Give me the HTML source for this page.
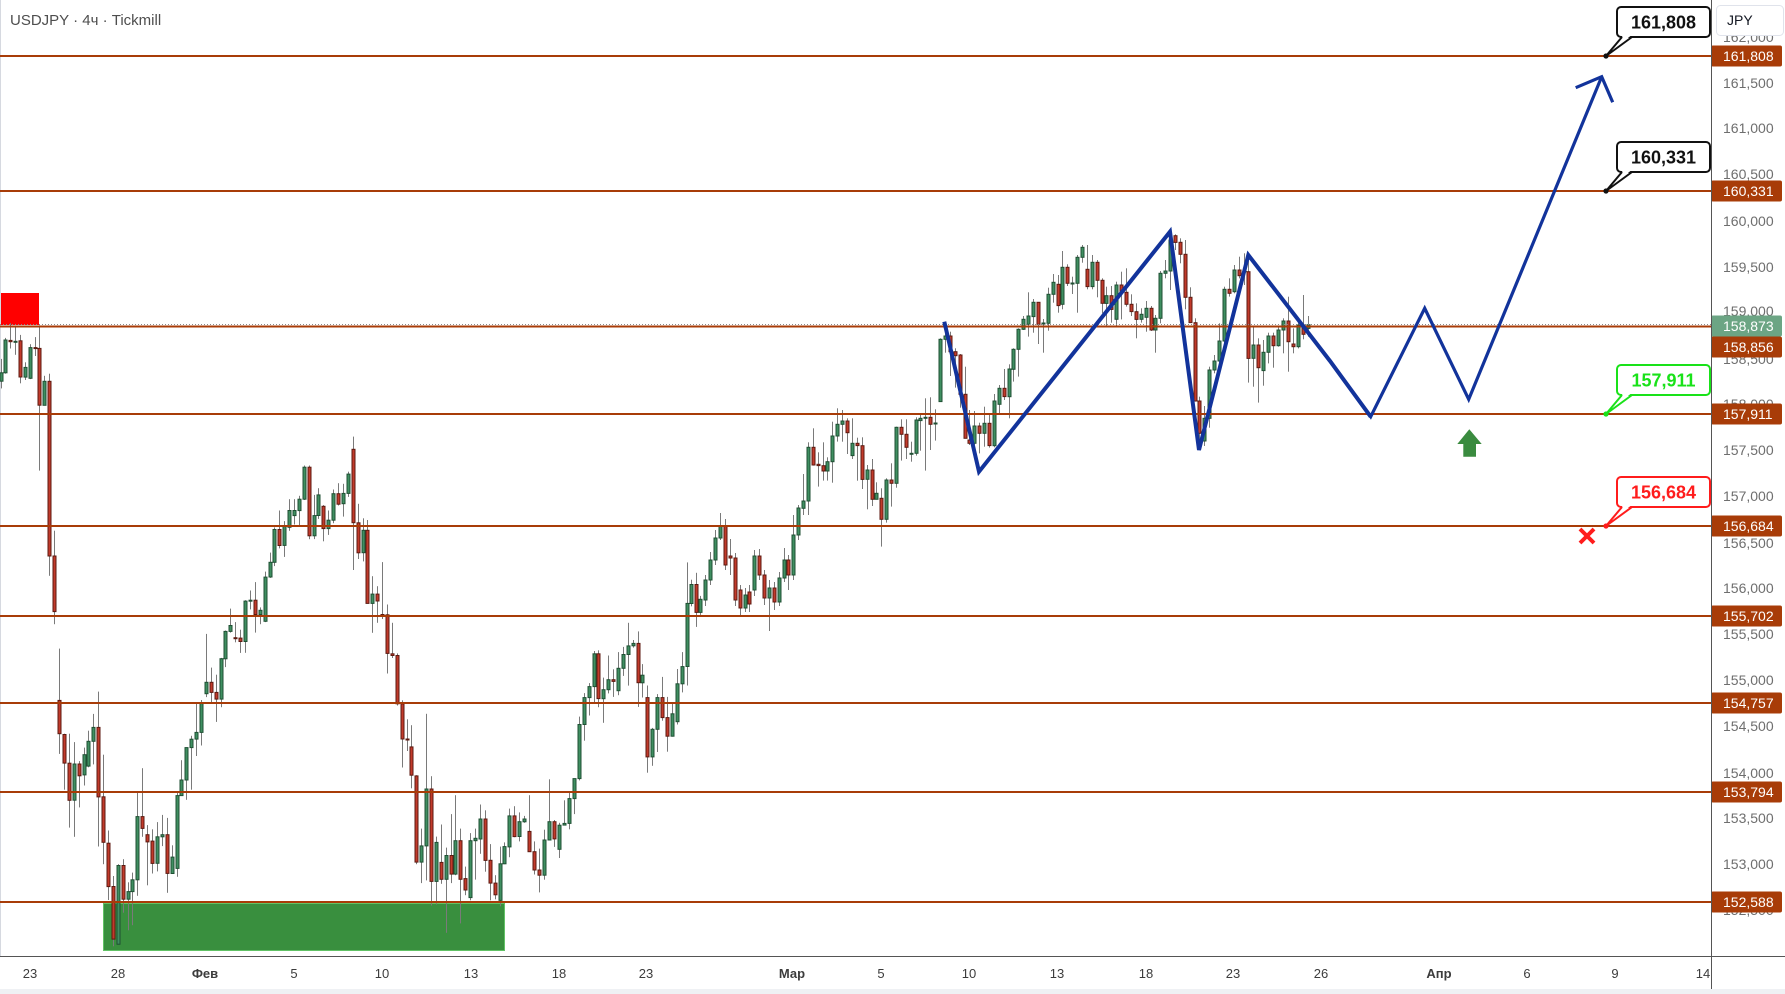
<!DOCTYPE html>
<html><head><meta charset="utf-8"><style>
html,body{margin:0;padding:0;background:#fff;}
svg{display:block;}
text{font-family:"Liberation Sans","DejaVu Sans",sans-serif;}
</style></head><body>
<svg id="s" width="1785" height="994" viewBox="0 0 1785 994" xmlns="http://www.w3.org/2000/svg">
<rect x="0" y="0" width="1785" height="994" fill="#ffffff"/>
<rect x="0" y="0" width="1" height="956" fill="#d6d9e0"/>
<!-- zones -->
<rect x="1" y="293" width="38" height="32" fill="#ff0000"/>
<rect x="103.5" y="903.5" width="401" height="47" fill="#398f3e" stroke="#62c266" stroke-width="1"/>
<g id="candles"></g>
<!-- current price dotted -->
<line x1="0" y1="324.5" x2="1711" y2="324.5" stroke="#8a8a8a" stroke-width="1" stroke-dasharray="1,2"/>
<!-- levels -->
<g stroke="#a83c08" stroke-width="2">
<line x1="0" y1="56" x2="1711" y2="56"/>
<line x1="0" y1="191" x2="1711" y2="191"/>
<line x1="0" y1="326.5" x2="1711" y2="326.5"/>
<line x1="0" y1="414" x2="1711" y2="414"/>
<line x1="0" y1="526" x2="1711" y2="526"/>
<line x1="0" y1="616" x2="1711" y2="616"/>
<line x1="0" y1="703" x2="1711" y2="703"/>
<line x1="0" y1="792" x2="1711" y2="792"/>
<line x1="0" y1="902" x2="1711" y2="902"/>
</g>
<!-- blue zigzag -->
<polyline points="944.3,321.7 979,471.7 1170,231.7 1199,450 1248.3,255 1330,361 1370.7,416.7" fill="none" stroke="#12339b" stroke-width="4" stroke-linejoin="miter"/>
<polyline points="1330,361 1370.7,416.7 1424.7,308.3 1468.7,399.3 1601.7,76.7" fill="none" stroke="#12339b" stroke-width="3.2" stroke-linejoin="miter"/>
<polyline points="1575.7,87.7 1601.7,76.7 1612.7,102.3" fill="none" stroke="#12339b" stroke-width="3.2"/>
<!-- green arrow -->
<polygon points="1469.3,429.3 1481.7,444 1476,444 1476,456.7 1463.3,456.7 1463.3,444 1457.3,444" fill="#3a8b3f"/>
<!-- red X -->
<g stroke="#ff1c1c" stroke-width="4">
<line x1="1580" y1="529" x2="1594" y2="543"/>
<line x1="1594" y1="529" x2="1580" y2="543"/>
</g>
<!-- callouts -->
<g font-weight="bold" font-size="18" text-anchor="middle">
<g>
<rect x="1617" y="7" width="93" height="30" rx="4" fill="#fff" stroke="#111" stroke-width="2"/>
<polygon points="1623,35.5 1631,35.5 1607,55" fill="#fff"/>
<polyline points="1622,37 1606,56 1632,37" fill="none" stroke="#111" stroke-width="2"/>
<circle cx="1606" cy="56" r="2.6" fill="#111"/>
<text x="1663.5" y="28.5" fill="#111">161,808</text>
</g>
<g>
<rect x="1617" y="142" width="93" height="30" rx="4" fill="#fff" stroke="#111" stroke-width="2"/>
<polygon points="1623,170.5 1631,170.5 1607,190" fill="#fff"/>
<polyline points="1622,172 1606,191 1632,172" fill="none" stroke="#111" stroke-width="2"/>
<circle cx="1606" cy="191" r="2.6" fill="#111"/>
<text x="1663.5" y="163.5" fill="#111">160,331</text>
</g>
<g>
<rect x="1617" y="365" width="93" height="30" rx="4" fill="#fff" stroke="#19e219" stroke-width="2"/>
<polygon points="1623,393.5 1631,393.5 1607,413" fill="#fff"/>
<polyline points="1622,395 1606,414 1632,395" fill="none" stroke="#19e219" stroke-width="2"/>
<circle cx="1606" cy="414" r="2.6" fill="#19e219"/>
<text x="1663.5" y="386.5" fill="#19e219">157,911</text>
</g>
<g>
<rect x="1617" y="477" width="93" height="30" rx="4" fill="#fff" stroke="#ff1c1c" stroke-width="2"/>
<polygon points="1623,505.5 1631,505.5 1607,525" fill="#fff"/>
<polyline points="1622,507 1606,526 1632,507" fill="none" stroke="#ff1c1c" stroke-width="2"/>
<circle cx="1606" cy="526" r="2.6" fill="#ff1c1c"/>
<text x="1663.5" y="498.5" fill="#ff1c1c">156,684</text>
</g>
</g>
<!-- title -->
<text x="10" y="25" font-size="15" fill="#4e4e4e">USDJPY · 4ч · Tickmill</text>
<!-- price axis ticks -->
<g font-size="14" fill="#6e6e6e">
<text x="1723" y="42">162,000</text>
<text x="1723" y="88">161,500</text>
<text x="1723" y="133">161,000</text>
<text x="1723" y="179">160,500</text>
<text x="1723" y="226">160,000</text>
<text x="1723" y="272">159,500</text>
<text x="1723" y="316">159,000</text>
<text x="1723" y="364">158,500</text>
<text x="1723" y="409">158,000</text>
<text x="1723" y="455">157,500</text>
<text x="1723" y="501">157,000</text>
<text x="1723" y="548">156,500</text>
<text x="1723" y="593">156,000</text>
<text x="1723" y="639">155,500</text>
<text x="1723" y="685">155,000</text>
<text x="1723" y="731">154,500</text>
<text x="1723" y="778">154,000</text>
<text x="1723" y="823">153,500</text>
<text x="1723" y="869">153,000</text>
<text x="1723" y="915">152,500</text>
</g>
<!-- price labels -->
<g font-size="14" fill="#ffffff">
<rect x="1711" y="45.5" width="71" height="21" rx="2" fill="#a83c08"/><text x="1723" y="61">161,808</text>
<rect x="1711" y="180.5" width="71" height="21" rx="2" fill="#a83c08"/><text x="1723" y="196">160,331</text>
<rect x="1711" y="315.5" width="71" height="21" rx="2" fill="#6ca584"/><text x="1723" y="331">158,873</text>
<rect x="1711" y="336.5" width="71" height="21" rx="2" fill="#a83c08"/><text x="1723" y="352">158,856</text>
<rect x="1711" y="403.5" width="71" height="21" rx="2" fill="#a83c08"/><text x="1723" y="419">157,911</text>
<rect x="1711" y="515.5" width="71" height="21" rx="2" fill="#a83c08"/><text x="1723" y="531">156,684</text>
<rect x="1711" y="605.5" width="71" height="21" rx="2" fill="#a83c08"/><text x="1723" y="621">155,702</text>
<rect x="1711" y="692.5" width="71" height="21" rx="2" fill="#a83c08"/><text x="1723" y="708">154,757</text>
<rect x="1711" y="781.5" width="71" height="21" rx="2" fill="#a83c08"/><text x="1723" y="797">153,794</text>
<rect x="1711" y="891.5" width="71" height="21" rx="2" fill="#a83c08"/><text x="1723" y="907">152,588</text>
</g>
<!-- JPY -->
<rect x="1716.5" y="5.5" width="67" height="30" rx="4" fill="#fff" stroke="#e0e3eb" stroke-width="1"/>
<text x="1727" y="25" font-size="14" fill="#131722">JPY</text>
<!-- axes -->
<rect x="1711" y="0" width="1" height="990" fill="#555"/>
<rect x="0" y="956" width="1785" height="1" fill="#555"/>
<!-- time labels -->
<g font-size="13" fill="#3c3c3c" text-anchor="middle">
<text x="30" y="978">23</text>
<text x="118" y="978">28</text>
<text x="205" y="978" font-weight="bold">Фев</text>
<text x="294" y="978">5</text>
<text x="382" y="978">10</text>
<text x="471" y="978">13</text>
<text x="559" y="978">18</text>
<text x="646" y="978">23</text>
<text x="792" y="978" font-weight="bold">Мар</text>
<text x="881" y="978">5</text>
<text x="969" y="978">10</text>
<text x="1057" y="978">13</text>
<text x="1146" y="978">18</text>
<text x="1233" y="978">23</text>
<text x="1321" y="978">26</text>
<text x="1439" y="978" font-weight="bold">Апр</text>
<text x="1527" y="978">6</text>
<text x="1615" y="978">9</text>
<text x="1703" y="978">14</text>
</g>
<rect x="0" y="989" width="1785" height="5" fill="#eff1f4"/>
</svg>
<script>
(function(){
var NS='http://www.w3.org/2000/svg';
var g=document.getElementById('candles');
function add(tag,a){var e=document.createElementNS(NS,tag);for(var k in a)e.setAttribute(k,a[k]);g.appendChild(e);}
var zones=[
{ox:0,sx:3,oy:300,sy:2.375,d:[
[3,'g',173,193,140,210],[15,'g',95,173,90,175],[31,'r',96,99,55,115],[46,'g',98,99,65,130],[61,'r',97,183,83,198],[76,'g',160,183,148,190],[91,'g',113,186,105,188],[106,'r',113,115,88,133],[118,'r',115,250,60,405],[133,'g',193,250,180,250],[148,'r',193,608,175,655],[163,'r',608,740,548,770],[178,'r',951,1030,828,1078],[193,'r',1032,1100,1030,1163],[208,'r',1100,1188,1030,1253],[223,'g',1102,1188,1050,1275],[238,'r',1102,1130,1095,1205],[253,'g',1080,1128,1063,1153],[265,'g',1048,1107,1023,1110],[280,'g',1015,1048,983,1103],[295,'r',1015,1180,930,1298],[310,'r',1180,1288,1080,1340],[325,'r',1290,1393,1260,1425],[340,'r',1393,1518,1368,1535],[355,'g',1343,1530,1340,1530],[370,'r',1343,1423,1328,1455],[385,'g',1405,1423,1383,1497],[397,'g',1377,1405,1360,1485],[412,'g',1227,1377,1170,1415],[427,'r',1227,1255,1112,1275],[442,'r',1270,1287,1247,1390],[457,'r',1285,1338,1257,1362],[472,'g',1275,1338,1240,1357],[487,'g',1270,1275,1223,1297],[502,'r',1270,1362,1230,1408],[517,'g',1323,1362,1295,1362],[532,'g',1177,1350,1170,1370],[544,'g',1140,1177,1093,1177],[559,'g',1063,1140,1063,1187],[574,'g',1043,1063,1035,1163],[589,'g',1027,1043,957,1083],[604,'g',957,1027,950,1058],[619,'g',908,935,793,943],[634,'r',908,932,873,955],[649,'r',932,948,890,1002],[664,'g',852,948,850,967],[676,'g',787,852,785,872],[691,'g',773,787,733,790],[706,'r',802,804,765,813],[721,'r',803,811,783,838],[736,'g',715,811,713,838],[751,'g',713,715,690,735],[766,'r',713,747,670,790],[781,'g',737,747,730,770],[796,'g',658,763,645,765],[811,'g',623,658,600,660],[823,'g',545,623,540,632],[838,'r',545,583,500,590],[853,'g',538,583,525,610],[868,'g',500,540,473,548],[883,'g',500,512,473,533],[898,'g',473,500,465,535],[913,'g',397,473,393,475],[928,'r',397,560,393,568],[943,'g',512,560,463,568],[955,'g',463,512,447,520],[970,'r',490,543,487,573],[985,'g',523,543,500,558],[1000,'g',460,523,450,530],[1015,'r',460,485,435,488]
]},
{ox:340,sx:3,oy:420,sy:2.9,d:[
[10,'g',213,243,185,280],[25,'g',157,213,150,223],[40,'r',85,298,48,435],[55,'r',298,385,243,403],[68,'g',320,385,285,410],[82,'r',320,532,290,532],[97,'g',505,532,453,617],[112,'r',505,525,482,588],[127,'r',564,566,412,577],[142,'r',565,677,535,735],[157,'r',678,683,588,690],[172,'r',683,823,677,828],[187,'r',823,925,813,1008],[202,'r',925,928,868,960],[214,'r',948,1030,885,1068],[229,'r',1032,1282,1030,1288],[244,'g',1235,1282,1185,1343],[259,'g',1070,1235,852,1335],[274,'r',1070,1338,1033,1408],[289,'g',1225,1338,1208,1405],[304,'r',1283,1332,1173,1345],[319,'g',1263,1332,1240,1487],[334,'r',1263,1317,1143,1343],[346,'g',1220,1317,1088,1320],[361,'r',1220,1332,1185,1460],[376,'r',1330,1363,1295,1378],[391,'g',1220,1385,1198,1393],[406,'g',1213,1220,1185,1333],[421,'g',1157,1215,1115,1258],[436,'r',1157,1277,1132,1310],[451,'r',1277,1343,1230,1393],[466,'r',1343,1377,1320,1390],[481,'g',1287,1393,1237,1410],[493,'g',1237,1287,1225,1288],[508,'g',1148,1238,1127,1268],[523,'r',1148,1208,1120,1210],[538,'g',1165,1208,1138,1222],[553,'g',1157,1165,1148,1168],[568,'r',1193,1252,1088,1252],[583,'r',1252,1305,1222,1318],[598,'r',1305,1320,1243,1370],[613,'g',1218,1320,1188,1333],[626,'g',1165,1218,1042,1218],[641,'r',1165,1215,1160,1238],[656,'g',1175,1245,1168,1270],[671,'g',1170,1175,1103,1175],[686,'g',1098,1170,1078,1187],[701,'g',1040,1098,1040,1143],[716,'g',883,1040,860,1045],[731,'g',805,883,792,930],[746,'g',773,805,763,857],[761,'g',678,773,670,823],[773,'r',678,808,668,833],[788,'g',782,808,747,878],[803,'g',753,782,683,793],[818,'r',753,758,723,803],[833,'g',720,785,673,798],[848,'g',680,720,658,742],[863,'g',655,680,588,770],[878,'g',648,655,638,660],[893,'r',648,762,613,832],[905,'g',740,762,708,805],[920,'r',805,977,770,1023],[935,'g',897,977,893,1003],[950,'g',805,897,795,963],[965,'r',805,863,745,872],[980,'r',863,917,803,962],[995,'g',852,917,820,918],[1010,'g',765,875,722,883],[1025,'g',715,765,673,790],[1040,'g',532,715,413,770],[1052,'g',477,532,463,540],[1067,'r',477,558,443,600],[1080,'g',520,558,510,565]
]},
{ox:0,sx:1,oy:0,sy:1,d:[
[705,'g',580,600,575,606],[710,'g',560,580,552,585],[715,'g',538,560,530,565],[720,'g',526,538,513,540],[725,'r',526,565,519,570],[730,'r',556,558,539,575],[735,'r',558,600,553,606],[740,'r',590,608,585,615],[745,'g',595,608,588,612],[749,'r',592,604,585,612],[754,'g',556,590,550,596],[759,'r',556,575,549,580],[764,'r',575,598,570,605],[769,'g',588,598,580,631],[774,'r',588,602,582,610],[779,'g',578,602,572,606],[784,'g',560,578,548,582],[788,'r',560,575,555,590],[793,'g',535,575,515,580],[798,'g',508,535,505,540]
]},
{ox:690,sx:3,oy:200,sy:3,d:[
[340,'g',903,925,822,945],[355,'g',742,903,727,945],[370,'r',742,795,685,797],[385,'r',793,797,757,860],[400,'r',797,813,727,842],[412,'g',785,813,772,842],[427,'g',708,785,665,848],[442,'g',673,708,625,725],[457,'g',663,673,630,725],[472,'r',663,698,655,762],[487,'g',730,767,655,777],[502,'r',730,737,713,842],[517,'r',737,838,712,867],[532,'g',810,838,795,928],[547,'r',810,898,777,918],[559,'g',880,898,847,898],[574,'r',895,958,865,1040],[589,'g',840,958,835,968],[604,'r',840,850,790,920],[619,'g',682,850,680,863],[634,'r',682,703,658,782],[649,'r',703,742,658,777],[664,'g',760,763,725,785],[679,'g',660,760,652,767],[691,'g',655,662,642,752],[706,'g',652,655,595,812],[721,'r',652,673,592,750],[736,'g',669,671,628,722],[751,'g',418,605,415,605],[766,'g',408,418,395,458],[781,'r',408,455,395,528],[796,'r',455,467,445,563],[811,'r',465,583,462,623],[826,'r',583,715,500,715],[838,'r',720,730,630,735],[853,'g',678,730,633,735],[868,'r',678,700,668,760],[883,'g',670,700,620,740],[898,'r',670,737,640,743],[913,'g',603,737,582,742],[928,'g',565,613,555,640],[943,'r',565,590,507,600]
]},
{ox:1000,sx:3,oy:200,sy:3,d:[
[28,'g',507,590,493,655],[40,'g',448,508,445,545],[55,'g',388,448,385,530],[70,'g',358,388,348,390],[85,'g',348,373,277,410],[100,'g',307,350,297,398],[115,'r',307,373,307,432],[130,'g',369,371,357,458],[145,'g',283,370,263,392],[160,'g',247,283,222,308],[175,'r',253,317,225,338],[187,'g',202,313,153,328],[202,'r',202,250,193,258],[217,'g',249,251,230,282],[232,'g',172,250,165,338],[247,'g',142,172,135,188],[262,'r',208,260,135,268],[277,'g',187,260,165,268],[292,'r',187,241,180,292],[307,'r',241,310,235,340],[319,'g',287,310,260,378],[334,'r',287,328,258,368],[349,'g',255,358,245,378],[364,'r',255,275,215,358],[379,'r',277,313,205,320],[394,'r',313,335,283,348],[409,'r',335,358,310,415],[424,'g',343,358,325,368],[439,'g',325,352,303,395],[454,'r',325,390,318,393],[466,'g',355,390,345,458],[481,'g',220,355,213,370],[496,'g',213,220,180,235],[511,'g',120,213,95,270],[526,'r',107,127,103,150],[541,'r',127,163,115,190],[556,'r',163,292,120,328],[571,'r',292,368,262,368],[586,'r',368,603,355,605],[598,'r',603,700,590,740],[613,'g',655,723,618,738],[628,'g',510,655,500,683],[643,'g',483,510,465,520],[658,'g',423,483,370,490],[673,'g',268,423,260,430],[688,'r',268,280,235,290],[703,'g',210,275,195,280],[718,'r',210,227,170,235],[733,'g',212,215,160,255],[745,'r',215,475,160,548],[760,'g',435,475,380,560],[775,'r',435,503,415,608],[790,'g',457,512,420,557],[805,'g',408,457,398,490],[820,'r',408,437,398,503],[835,'g',390,437,380,440],[850,'g',363,390,355,460],[865,'r',363,425,290,515],[878,'r',432,440,385,460],[893,'g',375,440,365,445],[908,'r',375,403,285,418],[923,'g',374,385,348,410]
]}
];
zones.forEach(function(z){z.d.forEach(function(c){
var x=Math.round(z.ox+c[0]/z.sx);
var t=z.oy+c[2]/z.sy,b=z.oy+c[3]/z.sy,wt=z.oy+c[4]/z.sy,wb=z.oy+c[5]/z.sy;
var top=Math.min(wt,t),bot=Math.max(wb,b);
add('rect',{x:x,y:top.toFixed(1),width:1,height:(bot-top).toFixed(1),fill:'#7a7a7a'});
var up=c[1]=='g';
add('rect',{x:x-1,y:t.toFixed(1),width:3,height:Math.max(b-t,1).toFixed(1),fill:up?'#3f8f61':'#c23a2b',stroke:up?'#1f4f33':'#5c1a10','stroke-width':1});
});});
})();
</script>
</body></html>
